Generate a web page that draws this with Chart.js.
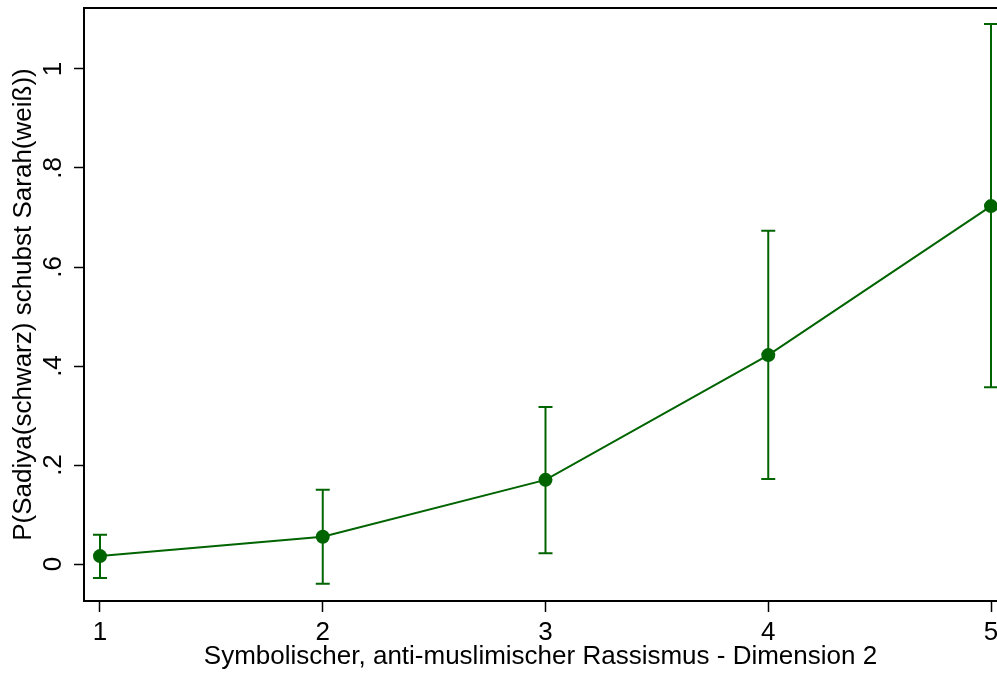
<!DOCTYPE html>
<html>
<head>
<meta charset="utf-8">
<script src="https://cdn.jsdelivr.net/npm/chart.js@4/dist/chart.umd.min.js"></script>
<style>
  html, body { margin: 0; padding: 0; background: #fff; overflow: hidden; }
  #chart { display: block; }
</style>
</head>
<body>
<canvas id="chart" width="997" height="677"></canvas>
<script>
// predicted probabilities with 95% CI
const xValues = [1, 2, 3, 4, 5];
const predicted = [0.016, 0.055, 0.170, 0.422, 0.723];
const ciLower = [-0.028, -0.040, 0.022, 0.172, 0.357];
const ciUpper = [0.059, 0.150, 0.317, 0.673, 1.091];

const xTicks = [1, 2, 3, 4, 5];
const yTicks = [0, 0.2, 0.4, 0.6, 0.8, 1];
const yTickLabels = ['0', '.2', '.4', '.6', '.8', '1'];

const xTitle = 'Symbolischer, anti-muslimischer Rassismus - Dimension 2';
const yTitle = 'P(Sadiya(schwarz) schubst Sarah(weiß))';

const GREEN = '#006400';
const FONT = { family: '"Liberation Sans", Arial, sans-serif', size: 26, lineHeight: 1 };

// Stata-style capped CI spikes
const errorBars = {
  id: 'errorBars',
  beforeDatasetsDraw(chart) {
    const { ctx, scales: { x, y } } = chart;
    ctx.save();
    ctx.strokeStyle = GREEN;
    ctx.lineWidth = 2;
    xValues.forEach((v, i) => {
      const px = x.getPixelForValue(v);
      const lo = y.getPixelForValue(ciLower[i]);
      const hi = y.getPixelForValue(ciUpper[i]);
      ctx.beginPath();
      ctx.moveTo(px, lo); ctx.lineTo(px, hi);
      ctx.moveTo(px - 7, lo); ctx.lineTo(px + 7, lo);
      ctx.moveTo(px - 7, hi); ctx.lineTo(px + 7, hi);
      ctx.stroke();
    });
    ctx.restore();
  }
};

// top edge of the plot box (the right edge is cut off in the original)
const frame = {
  id: 'frame',
  beforeDatasetsDraw(chart) {
    const { ctx, chartArea: a } = chart;
    ctx.save();
    ctx.strokeStyle = '#000';
    ctx.lineWidth = 2;
    ctx.beginPath();
    ctx.moveTo(a.left - 1, a.top);
    ctx.lineTo(chart.width, a.top);
    ctx.stroke();
    ctx.restore();
  }
};

// let the plot run off the right edge like the cropped original
const noPadding = axis => {
  axis.paddingTop = 0; axis.paddingBottom = 0;
  axis.paddingLeft = 0; axis.paddingRight = 0;
};

new Chart(document.getElementById('chart'), {
  type: 'line',
  data: {
    datasets: [{
      data: xValues.map((v, i) => ({ x: v, y: predicted[i] })),
      borderColor: GREEN,
      backgroundColor: GREEN,
      borderWidth: 2,
      pointRadius: 7,
      pointBorderWidth: 0,
      tension: 0,
      clip: false
    }]
  },
  options: {
    responsive: false,
    animation: false,
    devicePixelRatio: 1,
    layout: { autoPadding: false, padding: { top: 8, left: 0, right: 0, bottom: 0 } },
    plugins: {
      legend: { display: false },
      tooltip: { enabled: false }
    },
    scales: {
      x: {
        type: 'linear',
        min: 0.9282,
        max: 5.0269,
        afterBuildTicks: s => { s.ticks = xTicks.map(v => ({ value: v })); },
        afterFit: noPadding,
        grid: { drawOnChartArea: false, tickLength: 11, tickColor: '#000', tickWidth: 1.5 },
        border: { color: '#000', width: 2 },
        ticks: { color: '#000', font: FONT, padding: 8, maxRotation: 0, autoSkip: false, callback: v => String(v) },
        title: { display: true, text: xTitle, color: '#000', font: FONT, padding: { top: -10.5, bottom: 7.5 } }
      },
      y: {
        type: 'linear',
        min: -0.0747,
        max: 1.1232,
        afterBuildTicks: s => { s.ticks = yTicks.map(v => ({ value: v })); },
        afterFit: noPadding,
        grid: { drawOnChartArea: false, tickLength: 10, tickColor: '#000', tickWidth: 1.5 },
        border: { color: '#000', width: 2 },
        ticks: {
          color: '#000', font: FONT, padding: 9,
          minRotation: 90, maxRotation: 90, crossAlign: 'center',
          callback: v => yTickLabels[yTicks.indexOf(v)]
        },
        title: { display: true, text: yTitle, color: '#000', font: FONT, padding: { top: 11, bottom: -7 } }
      }
    }
  },
  plugins: [errorBars, frame]
});
</script>
</body>
</html>
